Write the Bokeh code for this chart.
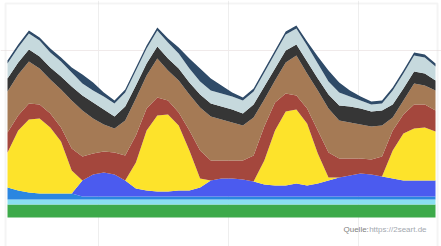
from bokeh.plotting import figure
from bokeh.models import ColumnDataSource, Grid, FixedTicker, BoxAnnotation, Label, Range1d
from bokeh.embed import file_html
from bokeh.resources import INLINE

# hours since start (2-hour steps)
hours = [0, 2, 4, 6, 8, 10, 12, 14, 16, 18, 20, 22, 24, 26, 28, 30, 32, 34, 36, 38, 40,
         42, 44, 46, 48, 50, 52, 54, 56, 58, 60, 62, 64, 66, 68, 70, 72, 74, 76, 78, 80]

# generation by source, GW
biomasse = [5.2, 5.2, 5.2, 5.2, 5.2, 5.2, 5.2, 5.2, 5.2, 5.2, 5.2, 5.2, 5.2, 5.2, 5.2, 5.2, 5.2, 5.2, 5.2, 5.2, 5.2,
            5.2, 5.2, 5.2, 5.2, 5.2, 5.2, 5.2, 5.2, 5.2, 5.2, 5.2, 5.2, 5.2, 5.2, 5.2, 5.2, 5.2, 5.2, 5.2, 5.2]
wasser = [2.0, 2.0, 2.0, 2.0, 2.0, 2.0, 2.0, 2.0, 2.0, 2.0, 2.0, 2.0, 2.0, 2.0, 2.0, 2.0, 2.0, 2.0, 2.0, 2.0, 2.0,
          2.0, 2.0, 2.0, 2.0, 2.0, 2.0, 2.0, 2.0, 2.0, 2.0, 2.0, 2.0, 2.0, 2.0, 2.0, 2.0, 2.0, 2.0, 2.0, 2.0]
offshore = [4.8, 3.6, 2.8, 2.4, 2.4, 2.4, 2.4, 1.2, 1.2, 1.2, 1.2, 1.2, 1.2, 1.2, 1.2, 1.2, 1.2, 1.2, 1.2, 1.2, 1.2,
            1.2, 1.2, 1.2, 1.2, 1.2, 1.2, 1.2, 1.2, 1.2, 1.2, 1.2, 1.2, 1.2, 1.2, 1.2, 1.2, 1.2, 1.2, 1.2, 1.2]
wind = [0.0, 0.0, 0.0, 0.0, 0.0, 0.0, 0.0, 6.4, 8.8, 9.6, 8.8, 6.4, 3.2, 2.4, 2.0, 2.0, 2.4, 2.4, 3.6, 6.4, 7.2,
        7.2, 6.8, 6.0, 4.8, 4.4, 4.4, 5.2, 4.4, 5.2, 6.4, 7.6, 8.4, 9.2, 8.8, 8.0, 7.2, 6.4, 6.4, 6.4, 6.4]
solar = [14.0, 24.0, 29.2, 30.0, 26.4, 20.8, 9.2, 0.0, 0.0, 0.0, 0.0, 0.0, 10.4, 24.0, 30.4, 30.8, 26.0, 16.0, 3.6, 0.0, 0.0,
         0.0, 0.0, 0.0, 9.6, 22.0, 29.6, 29.6, 24.8, 12.0, 1.2, 0.0, 0.0, 0.0, 0.0, 0.0, 11.2, 18.8, 20.8, 21.2, 19.6]
erdgas = [8.0, 6.0, 6.4, 5.6, 5.6, 5.6, 8.8, 9.6, 8.4, 8.4, 8.8, 10.0, 10.8, 8.8, 7.2, 5.6, 5.2, 8.0, 11.2, 8.0, 7.2,
          7.2, 7.6, 10.4, 13.6, 11.2, 7.2, 5.6, 6.0, 9.2, 10.0, 7.6, 6.8, 6.0, 6.0, 8.0, 8.0, 7.6, 9.6, 9.2, 8.4]
braunkohle = [16.4, 16.4, 16.8, 14.4, 13.6, 15.2, 19.2, 18.4, 14.0, 10.8, 9.6, 14.0, 14.8, 13.2, 15.6, 12.0, 12.8, 14.4, 17.2, 17.6, 16.4,
              15.2, 14.0, 15.2, 10.8, 8.8, 12.4, 16.0, 14.0, 16.0, 17.6, 15.2, 14.4, 13.6, 13.2, 12.4, 5.2, 5.6, 8.4, 7.6, 8.0]
steinkohle = [5.2, 4.8, 4.8, 4.8, 4.8, 5.2, 5.6, 6.0, 6.4, 6.0, 4.8, 5.6, 5.2, 4.8, 4.8, 4.8, 4.8, 4.8, 5.2, 5.2, 5.2,
              5.2, 4.8, 5.2, 5.2, 4.8, 4.8, 4.4, 4.8, 4.8, 5.6, 6.0, 6.4, 6.4, 6.0, 6.0, 5.2, 4.8, 4.8, 4.8, 4.0]
kernenergie = [6.0, 6.0, 6.4, 6.4, 6.0, 6.0, 5.6, 4.8, 4.8, 5.2, 5.2, 5.6, 6.0, 6.0, 6.4, 6.4, 6.0, 5.6, 5.2, 5.2, 5.2,
               5.2, 5.2, 5.2, 5.6, 6.0, 6.4, 6.4, 6.4, 6.0, 5.2, 5.2, 4.0, 3.2, 2.8, 2.8, 5.6, 6.0, 6.4, 6.4, 5.6]
sonstige = [1.2, 1.2, 1.2, 1.2, 1.6, 1.6, 2.0, 3.6, 3.2, 1.6, 1.2, 1.2, 1.2, 1.2, 1.2, 1.6, 2.4, 4.0, 5.2, 4.8, 3.2,
            1.6, 1.2, 1.2, 1.2, 1.2, 1.2, 1.2, 1.6, 2.8, 4.4, 4.0, 2.4, 1.6, 1.2, 1.2, 1.2, 1.2, 1.2, 1.2, 1.2]

series_names = ["biomasse", "wasser", "offshore", "wind", "solar", "erdgas",
                "braunkohle", "steinkohle", "kernenergie", "sonstige"]
series_colors = ["#3daa4a", "#8adff0", "#2b86e0", "#4b5bef", "#fde32b", "#a4473d",
                 "#a57a55", "#363636", "#c6d9dd", "#2f4b68"]

source = ColumnDataSource(data=dict(
    h=hours, biomasse=biomasse, wasser=wasser, offshore=offshore, wind=wind, solar=solar,
    erdgas=erdgas, braunkohle=braunkohle, steinkohle=steinkohle,
    kernenergie=kernenergie, sonstige=sonstige))

p = figure(width=441, height=246,
           x_range=Range1d(-1.31, 81.12), y_range=Range1d(-11.6, 86.8),
           x_axis_location=None, y_axis_location=None,
           min_border=0, output_backend="svg", toolbar_location=None,
           background_fill_color="white", border_fill_color="white",
           outline_line_color=None)
p.grid.grid_line_color = None

p.add_layout(Grid(dimension=0, ticker=FixedTicker(ticks=[17.0, 41.3, 65.6]),
                  grid_line_color="#eeeeee", grid_line_width=1))
p.add_layout(Grid(dimension=1, ticker=FixedTicker(ticks=[66.8]),
                  grid_line_color="#f0eaea", grid_line_width=1))

p.add_layout(BoxAnnotation(left=-0.37, right=80.37, top=85.6, bottom=-30,
                           fill_color=None, fill_alpha=0,
                           line_color="#dcdcdc", line_width=2, level="underlay"))

p.varea_stack(stackers=series_names, x="h", color=series_colors, source=source)

p.add_layout(Label(x=62.8, y=-4.8, text="Quelle:", text_font_size="8px",
                   text_color="#808080", text_baseline="middle",
                   text_font="Liberation Sans"))
p.add_layout(Label(x=67.6, y=-4.8, text="https://2seart.de", text_font_size="8px",
                   text_color="#a4a9b0", text_baseline="middle",
                   text_font="Liberation Sans"))

open("out.html", "w").write(file_html(p, INLINE))
